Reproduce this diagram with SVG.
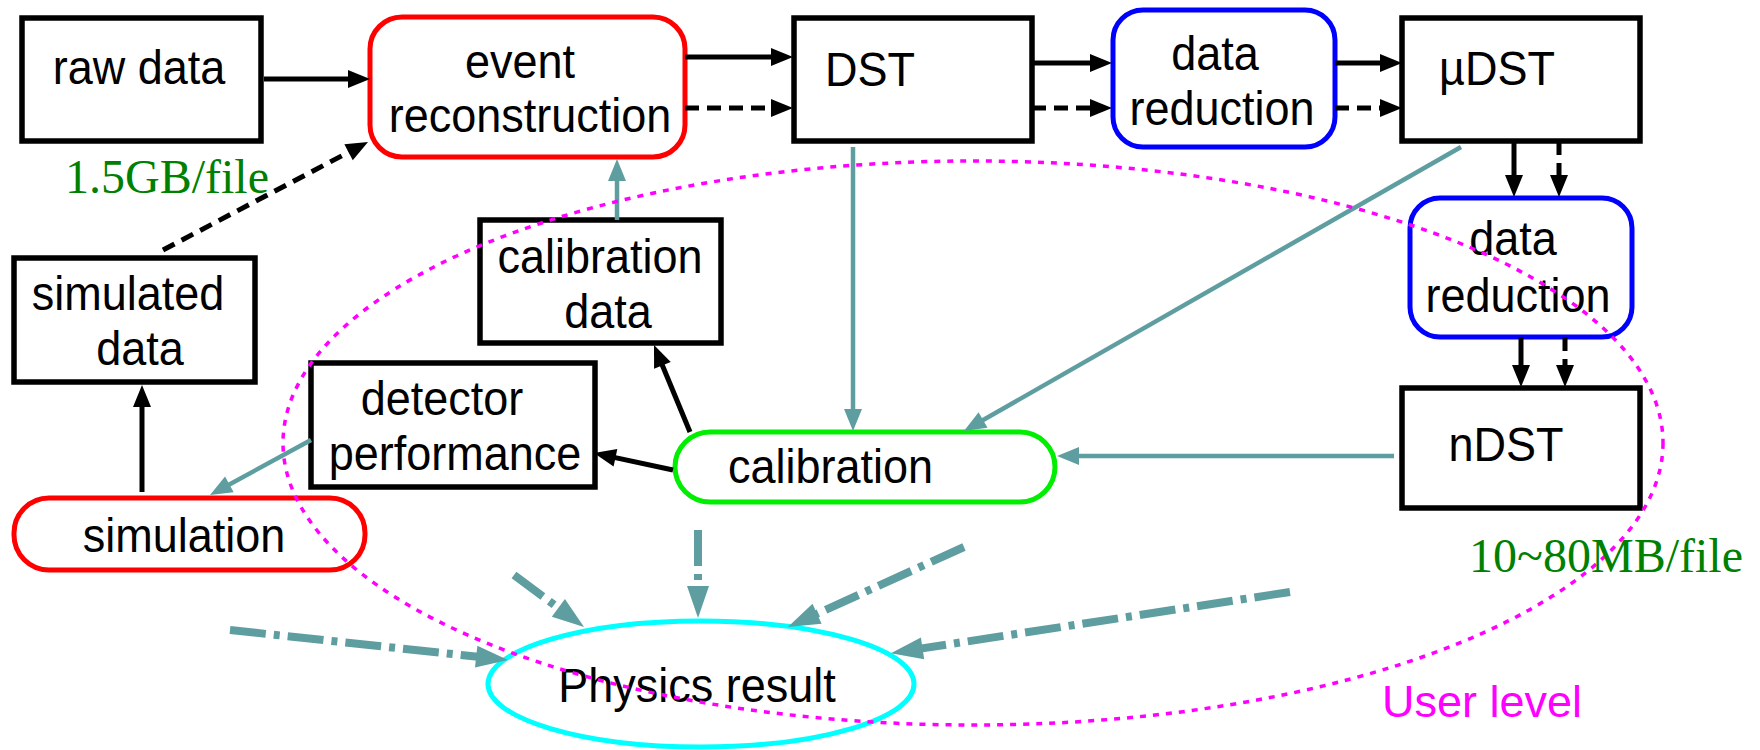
<svg xmlns="http://www.w3.org/2000/svg" width="1760" height="750" viewBox="0 0 1760 750">
<style>
.box{fill:#fff;stroke:#000;stroke-width:5.5}
.red{fill:#fff;stroke:#ff0000;stroke-width:5}
.blue{fill:#fff;stroke:#0000ff;stroke-width:5}
.green{fill:#fff;stroke:#00ee00;stroke-width:5}
.cyan{fill:none;stroke:#00ffff;stroke-width:5}
.t{font-family:"Liberation Sans",Arial,sans-serif;font-size:45px;fill:#000;text-anchor:middle;transform-box:fill-box;transform-origin:50% 80%;transform:scaleY(1.08)}
.s{font-family:"Liberation Serif","Times New Roman",serif;font-size:48px;fill:#008000}
.k{stroke:#000;stroke-width:5;fill:none}
.kd{stroke-dasharray:14 8}
.tl{stroke:#5f9ea0;stroke-width:4.5;fill:none}
.dd{stroke:#5f9ea0;stroke-width:8;fill:none;stroke-dasharray:36 8 6 8}
</style>
<defs>
<marker id="ak" markerUnits="userSpaceOnUse" markerWidth="22" markerHeight="18" refX="11" refY="9" orient="auto" overflow="visible"><path d="M0,0 L22,9 L0,18 z" fill="#000"/></marker>
<marker id="at" markerUnits="userSpaceOnUse" markerWidth="22" markerHeight="18" refX="11" refY="9" orient="auto" overflow="visible"><path d="M0,0 L22,9 L0,18 z" fill="#5f9ea0"/></marker>
<marker id="ab" markerUnits="userSpaceOnUse" markerWidth="32" markerHeight="22" refX="14" refY="11" orient="auto" overflow="visible"><path d="M0,0 L32,11 L0,22 z" fill="#5f9ea0"/></marker>
</defs>

<g id="raw-data"><rect class="box" x="22" y="18" width="239" height="123"/><text class="t" x="139" y="84">raw data</text></g>
<g id="event-reconstruction"><rect class="red" x="370" y="17" width="315" height="140" rx="32"/><text class="t" x="520" y="78">event</text><text class="t" x="530" y="132">reconstruction</text></g>
<g id="dst"><rect class="box" x="794" y="18" width="238" height="123"/><text class="t" x="870" y="86">DST</text></g>
<g id="data-reduction-1"><rect class="blue" x="1113" y="10" width="222" height="137" rx="30"/><text class="t" x="1215" y="70">data</text><text class="t" x="1222" y="125">reduction</text></g>
<g id="udst"><rect class="box" x="1402" y="18" width="238" height="123"/><text class="t" x="1497" y="85">µDST</text></g>
<g id="data-reduction-2"><rect class="blue" x="1410" y="198" width="222" height="139" rx="30"/><text class="t" x="1513" y="255">data</text><text class="t" x="1518" y="312">reduction</text></g>
<g id="ndst"><rect class="box" x="1402" y="388" width="238" height="120"/><text class="t" x="1506" y="461">nDST</text></g>
<g id="simulated-data"><rect class="box" x="14" y="258" width="241" height="124"/><text class="t" x="128" y="310">simulated</text><text class="t" x="140" y="365">data</text></g>
<g id="calibration-data"><rect class="box" x="480" y="220" width="241" height="123"/><text class="t" x="600" y="273">calibration</text><text class="t" x="608" y="328">data</text></g>
<g id="detector-performance"><rect class="box" x="311" y="363" width="284" height="124"/><text class="t" x="442" y="415">detector</text><text class="t" x="455" y="470">performance</text></g>
<g id="calibration"><rect class="green" x="675" y="432" width="380" height="70" rx="35"/><text class="t" x="728" y="483" style="text-anchor:start">calibration</text></g>
<g id="simulation"><rect class="red" x="14" y="498" width="351" height="72" rx="35"/><text class="t" x="184" y="552">simulation</text></g>
<g id="physics-result"><ellipse class="cyan" cx="701" cy="684" rx="213" ry="63"/><text class="t" x="697" y="702">Physics result</text></g>

<g id="connectors">
<line class="k" x1="264" y1="79" x2="359" y2="79" marker-end="url(#ak)"/>
<line class="k" x1="685" y1="57" x2="782" y2="57" marker-end="url(#ak)"/>
<line class="k kd" x1="685" y1="108" x2="782" y2="108" marker-end="url(#ak)"/>
<line class="k" x1="1032" y1="63" x2="1101" y2="63" marker-end="url(#ak)"/>
<line class="k kd" x1="1032" y1="108" x2="1101" y2="108" marker-end="url(#ak)"/>
<line class="k" x1="1335" y1="63" x2="1391" y2="63" marker-end="url(#ak)"/>
<line class="k kd" x1="1335" y1="108" x2="1391" y2="108" marker-end="url(#ak)"/>
<line class="k" x1="1514" y1="141" x2="1514" y2="186" marker-end="url(#ak)"/>
<line class="k kd" x1="1559" y1="141" x2="1559" y2="186" marker-end="url(#ak)"/>
<line class="k" x1="1521" y1="337" x2="1521" y2="376" marker-end="url(#ak)"/>
<line class="k kd" x1="1565" y1="337" x2="1565" y2="376" marker-end="url(#ak)"/>
<line class="k" style="stroke-dasharray:13 8" x1="163" y1="250" x2="358.3" y2="147.1" marker-end="url(#ak)"/>
<line class="k" x1="142" y1="492" x2="142" y2="396" marker-end="url(#ak)"/>
<line class="k" x1="690" y1="432" x2="658.2" y2="355.2" marker-end="url(#ak)"/>
<line class="k" x1="673" y1="470" x2="604.7" y2="455.4" marker-end="url(#ak)"/>

<line class="tl" x1="617" y1="220" x2="617" y2="170" marker-end="url(#at)"/>
<line class="tl" x1="853" y1="147" x2="853" y2="420" marker-end="url(#at)"/>
<line class="tl" x1="1461" y1="147" x2="973.5" y2="425.5" marker-end="url(#at)"/>
<line class="tl" x1="1394" y1="456" x2="1068" y2="456" marker-end="url(#at)"/>
<line class="tl" x1="311" y1="440" x2="219.7" y2="489.7" marker-end="url(#at)"/>

<line class="dd" x1="230" y1="630" x2="490.1" y2="658.1" marker-end="url(#ab)"/>
<line class="dd" x1="514" y1="575" x2="569.6" y2="616.3" marker-end="url(#ab)"/>
<line class="dd" x1="698" y1="530" x2="698" y2="600" marker-end="url(#ab)"/>
<line class="dd" x1="964" y1="547" x2="804.3" y2="619.6" marker-end="url(#ab)"/>
<line class="dd" x1="1290" y1="592" x2="908.7" y2="650.4" marker-end="url(#ab)"/>
</g>

<g id="user-level">
<ellipse cx="973" cy="443" rx="690" ry="282" fill="none" stroke="#ff00ff" stroke-width="3.5" stroke-dasharray="6 7"/>
<text x="1382" y="717" style="font-family:'Liberation Sans',Arial,sans-serif;font-size:45px;fill:#ff00ff">User level</text>
</g>
<g id="labels">
<text class="s" x="65" y="193">1.5GB/file</text>
<text class="s" x="1469" y="572">10~80MB/file</text>
</g>
</svg>
